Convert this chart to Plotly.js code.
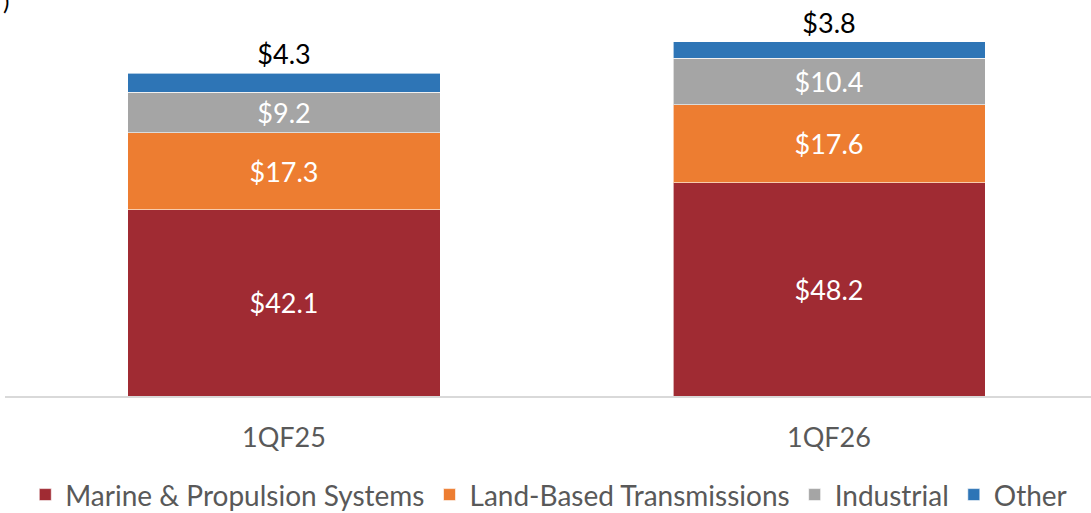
<!DOCTYPE html>
<html>
<head>
<meta charset="utf-8">
<script src="https://cdn.plot.ly/plotly-3.0.1.min.js"></script>
<style>html,body{margin:0;padding:0;background:#fff;}#chart{width:1091px;height:513px;}</style>
</head>
<body>
<div id="chart"></div>
<script>
const categories = ["1QF25", "1QF26"];
const marine = [42.1, 48.2];
const landBased = [17.3, 17.6];
const industrial = [9.2, 10.4];
const other = [4.3, 3.8];
const seriesNames = ["Marine & Propulsion Systems", "Land-Based Transmissions", "Industrial", "Other"];
const colors = ["#A02B33", "#ED7D31", "#A5A5A5", "#2E75B6"];

const fmt = v => "$" + v.toFixed(1);
const font = "Lato, 'Open Sans', sans-serif";

function mk(name, vals, color, inside) {
  return {
    type: "bar",
    name: name,
    x: categories,
    y: vals,
    text: vals.map(fmt),
    textposition: inside ? "inside" : "outside",
    insidetextanchor: "middle",
    textangle: 0,
    constraintext: "none",
    cliponaxis: false,
    textfont: {family: font, size: 27, color: inside ? "#FFFFFF" : "#000000"},
    marker: {color: color, line: {color: "rgba(255,255,255,0.6)", width: 1}},
    hoverinfo: "name+y"
  };
}

const data = [
  mk(seriesNames[0], marine, colors[0], true),
  mk(seriesNames[1], landBased, colors[1], true),
  mk(seriesNames[2], industrial, colors[2], true),
  mk(seriesNames[3], other, colors[3], false)
];

const layout = {
  width: 1091,
  height: 513,
  margin: {l: 5, r: 0, t: 0, b: 117},
  paper_bgcolor: "#FFFFFF",
  plot_bgcolor: "#FFFFFF",
  barmode: "stack",
  bargap: 0.4275,
  showlegend: true,
  legend: {
    orientation: "h",
    xref: "container", yref: "container",
    x: 0.503, xanchor: "center",
    y: 0.084, yanchor: "top",
    font: {family: font, size: 28, color: "#595959"},
    traceorder: "normal",
    itemclick: false
  },
  xaxis: {
    type: "category",
    range: [-0.5119, 1.4807],
    showline: true,
    linecolor: "#D9D9D9",
    linewidth: 1.5,
    showgrid: false,
    zeroline: false,
    ticks: "",
    ticklabelstandoff: 17,
    tickfont: {family: font, size: 27, color: "#595959"},
    automargin: false,
    fixedrange: true
  },
  yaxis: {
    range: [0, 89.4],
    visible: false,
    showgrid: false,
    zeroline: false,
    fixedrange: true
  },
  annotations: [{
    text: ")",
    xref: "paper", yref: "paper",
    x: -0.004, y: 1.0, xanchor: "left", yanchor: "middle",
    showarrow: false,
    font: {family: font, size: 24, color: "#000000"}
  }]
};

Plotly.newPlot("chart", data, layout, {displayModeBar: false, staticPlot: true});
</script>
</body>
</html>
